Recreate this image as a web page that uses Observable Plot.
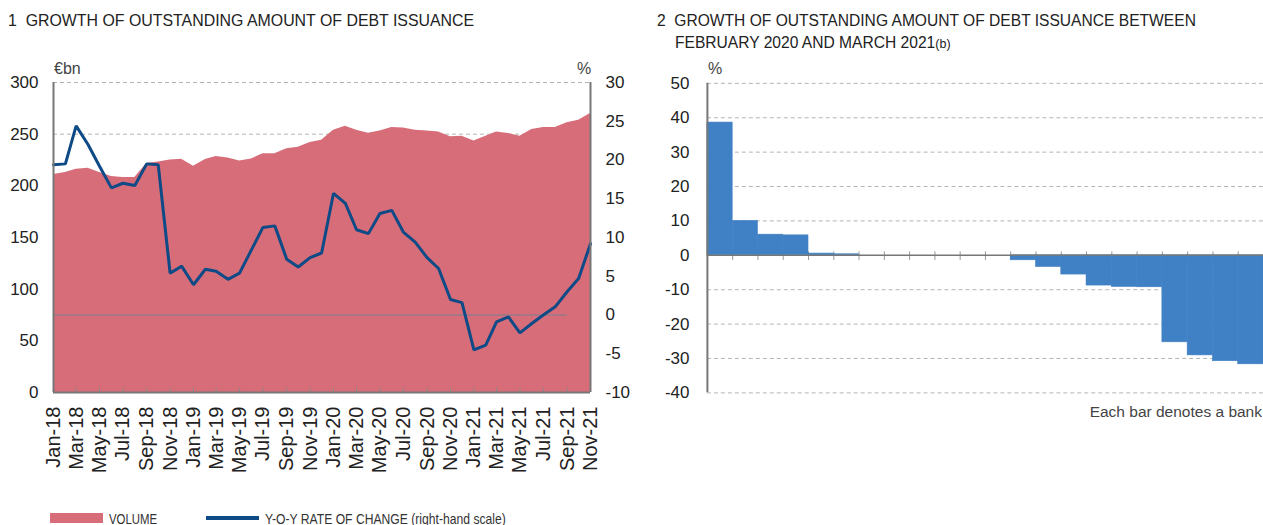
<!DOCTYPE html>
<html><head><meta charset="utf-8">
<script src="https://cdn.jsdelivr.net/npm/d3@7"></script>
<script src="https://cdn.jsdelivr.net/npm/@observablehq/plot@0.6"></script>
<style>
body{margin:0;width:1263px;height:525px;overflow:hidden;background:#fff;font-family:"Liberation Sans",Arial,sans-serif;color:#222;position:relative}
.t{position:absolute;font-size:15.9px;white-space:nowrap;color:#222;line-height:1}
.u{position:absolute;font-size:16px;color:#444;line-height:1;white-space:nowrap}
#c1{position:absolute;left:0;top:0}
#c2{position:absolute;left:640px;top:0}
.leg{position:absolute;top:511px;font-size:15px;line-height:1;white-space:nowrap;transform-origin:left center;color:#333}
</style></head><body>
<div class="t" style="left:8px;top:13px">1&nbsp; GROWTH OF OUTSTANDING AMOUNT OF DEBT ISSUANCE</div>
<div class="t" style="left:657px;top:13px;font-size:15.6px">2&nbsp; GROWTH OF OUTSTANDING AMOUNT OF DEBT ISSUANCE BETWEEN</div>
<div class="t" style="left:675px;top:35px;font-size:15.6px">FEBRUARY 2020 AND MARCH 2021<span style="font-size:12.5px">(b)</span></div>
<div id="c1"></div><div id="c2"></div>
<div class="u" style="left:54px;top:61px">€bn</div>
<div class="u" style="left:577px;top:61px">%</div>
<div class="u" style="left:708px;top:61px">%</div>
<div class="u" style="right:1px;top:404px;font-size:15.5px">Each bar denotes a bank</div>
<div style="position:absolute;left:50px;top:513px;width:53px;height:10px;background:#d86d7a"></div>
<div class="leg" style="left:109px;transform:scaleX(.76)">VOLUME</div>
<div style="position:absolute;left:206px;top:516px;width:53px;height:4px;background:#0d4a86"></div>
<div class="leg" style="left:265px;transform:scaleX(.81)">Y-O-Y RATE OF CHANGE (right-hand scale)</div>
<script>
// ---- data ----
const months = ["2018-01","2018-02","2018-03","2018-04","2018-05","2018-06","2018-07","2018-08","2018-09","2018-10","2018-11","2018-12",
"2019-01","2019-02","2019-03","2019-04","2019-05","2019-06","2019-07","2019-08","2019-09","2019-10","2019-11","2019-12",
"2020-01","2020-02","2020-03","2020-04","2020-05","2020-06","2020-07","2020-08","2020-09","2020-10","2020-11","2020-12",
"2021-01","2021-02","2021-03","2021-04","2021-05","2021-06","2021-07","2021-08","2021-09","2021-10","2021-11"];
const volume = [211,213,216,217,213,209,208,208,221.6,223,225,225.8,
219,225.5,228.4,227,224,226,231,231,235.8,237.4,242,244,
253.8,257.7,253.8,251,253,256.4,256,253.8,253,252,247.4,248,
243.5,248,252,250.6,248,254.5,256.4,256.4,261,263.5,270];
const rate = [19.4,19.5,24.4,22.0,19.2,16.4,17.0,16.7,19.5,19.4,5.4,6.3,
3.9,5.9,5.65,4.6,5.4,8.4,11.3,11.5,7.2,6.2,7.4,8.0,
15.7,14.4,11.0,10.5,13.1,13.5,10.7,9.4,7.4,6.0,2.0,1.6,
-4.5,-3.9,-0.9,-0.25,-2.3,-1.1,0.0,1.05,3.0,4.7,9.2];
const leftTicks = [0,50,100,150,200,250,300];
const rightTicks = [-10,-5,0,5,10,15,20,25,30];
const banks = [38.6,10.0,6.0,5.8,0.5,0.3,0,0,0,0,0,0,-1.45,-3.4,-5.6,-8.8,-9.2,-9.3,-25.3,-29.1,-30.8,-31.7];
const bankTicks = [-40,-30,-20,-10,0,10,20,30,40,50];

// ---- chart 1 ----
const parse = d3.utcParse("%Y-%m");
const data1 = months.map((m,i)=>({date: parse(m), volume: volume[i], rate: rate[i]}));
const dates = data1.map(d=>d.date);
const tickDates = dates.filter((d,i)=>i%2===0);
// rate (right scale -10..30) mapped onto volume scale (0..300)
const toV = r => (r + 10) * 7.5;
const fromV = v => Math.round(v / 7.5 - 10);
const grey = "#777";
const font = {fontFamily:"'Liberation Sans',Arial,sans-serif", fontSize:"16px", color:"#222", background:"transparent", overflow:"visible"};

const c1 = Plot.plot({
  width: 640, height: 480, marginLeft: 53, marginRight: 50, marginTop: 82, marginBottom: 88,
  style: font,
  x: {type:"utc", domain:[dates[0], dates[dates.length-1]]},
  y: {domain:[0,300]},
  marks: [
    Plot.ruleY(leftTicks.filter(d=>d>0), {stroke:"#b5b5b5", strokeDasharray:"4,3"}),
    Plot.areaY(data1, {x:"date", y:"volume", fill:"#d86d7a"}),
    Plot.ruleY([{y: toV(0), x1: dates[0], x2: dates[44]}], {y:"y", x1:"x1", x2:"x2", stroke:"#75808f", strokeWidth:1.2}),
    Plot.ruleX(tickDates, {y1:0, y2:4, stroke:"#888"}),
    Plot.lineY(data1, {x:"date", y:d=>toV(d.rate), stroke:"#0d4a86", strokeWidth:3, strokeLinejoin:"miter"}),
    Plot.ruleX([dates[0], dates[dates.length-1]], {stroke:grey, strokeWidth:2}),
    Plot.ruleY([0], {stroke:grey, strokeWidth:2}),
    Plot.axisX(tickDates, {tickSize:0, tickRotate:-90, tickPadding:14, fontSize:20, tickFormat:d3.utcFormat("%b-%y"), label:null, fill:"#222"}),
    Plot.axisY(leftTicks, {anchor:"left", tickSize:0, tickPadding:15, label:null, fontSize:17, tickFormat:d=>String(d)}),
    Plot.axisY(rightTicks.map(toV), {anchor:"right", tickSize:0, tickPadding:15, label:null, fontSize:17, tickFormat:v=>String(fromV(v))})
  ]
});
document.getElementById("c1").appendChild(c1);

// ---- chart 2 ----
const c2 = Plot.plot({
  width: 624, height: 480, marginLeft: 67, marginRight: 0, marginTop: 83, marginBottom: 87,
  style: font,
  x: {domain:[0, banks.length], axis:null},
  y: {domain:[-40,50]},
  marks: [
    Plot.ruleY(bankTicks.filter(d=>d!==0), {stroke:"#b5b5b5", strokeDasharray:"4,3"}),
    Plot.ruleX(d3.range(1, banks.length+1), {y1:-1.5, y2:1, stroke:"#999"}),
    Plot.rectY(banks, {x1:(d,i)=>i, x2:(d,i)=>i+1, y1:0, y2:d=>d, fill:"#4080c4", stroke:"#4080c4", strokeWidth:0.6}),
    Plot.ruleY([0], {stroke:grey, strokeWidth:1.5}),
    Plot.ruleX([0], {stroke:grey, strokeWidth:2}),
    Plot.axisY(bankTicks, {anchor:"left", tickSize:0, tickPadding:18, label:null, fontSize:17, tickFormat:d=>String(d)})
  ]
});
document.getElementById("c2").appendChild(c2);
</script>
</body></html>
